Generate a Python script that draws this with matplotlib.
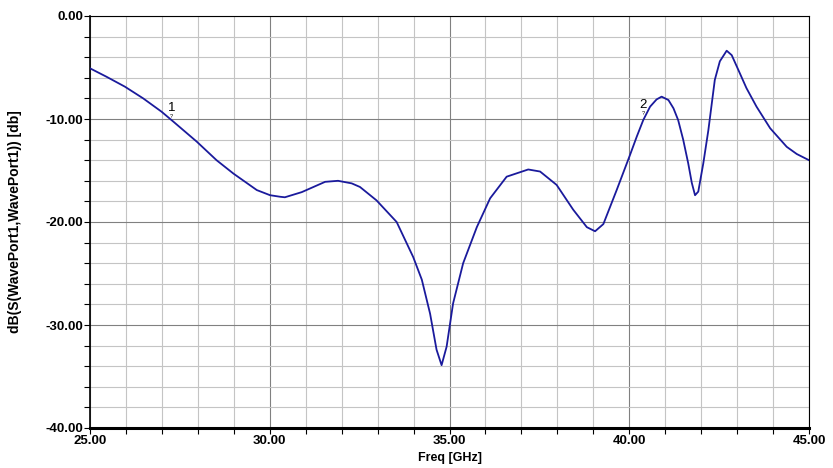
import matplotlib
matplotlib.use('Agg')
import matplotlib.pyplot as plt
from matplotlib.ticker import MultipleLocator, FormatStrFormatter

# S11 curve
freq = [25.0, 25.46, 25.97, 26.48, 26.99, 27.32, 27.97, 28.52, 28.99, 29.64,
        30.01, 30.29, 30.42, 30.89, 31.54, 31.9, 32.28, 32.51, 32.97, 33.53,
        33.99, 34.23, 34.46, 34.64, 34.78, 34.92, 35.1, 35.38, 35.76, 36.13,
        36.59, 37.19, 37.52, 37.98, 38.44, 38.82, 39.05, 39.28, 39.65, 40.02,
        40.21, 40.39, 40.58, 40.76, 40.9, 41.09, 41.23, 41.36, 41.5, 41.64,
        41.74, 41.83, 41.92, 42.06, 42.2, 42.38, 42.52, 42.71, 42.85, 43.03,
        43.26, 43.54, 43.92, 44.38, 44.66, 45.0]
s11_db = [-5.08, -5.9, -6.86, -8.0, -9.29, -10.26, -12.2, -14.0, -15.3, -16.9,
          -17.4, -17.55, -17.6, -17.1, -16.1, -16.0, -16.25, -16.6, -17.9, -20.0,
          -23.4, -25.6, -28.9, -32.4, -33.9, -32.1, -27.9, -24.0, -20.5, -17.7,
          -15.6, -14.9, -15.1, -16.4, -18.8, -20.5, -20.9, -20.2, -16.9, -13.5,
          -11.7, -10.1, -8.8, -8.1, -7.83, -8.16, -8.96, -10.1, -12.0, -14.3,
          -16.2, -17.4, -17.05, -14.3, -11.1, -6.2, -4.4, -3.37, -3.8, -5.2,
          -7.0, -8.8, -10.9, -12.7, -13.4, -14.0]

# markers
marker_names = ['1', '2']
marker_freq = [27.27, 40.38]
marker_db = [-10.1, -9.8]

plt.rcParams['font.family'] = ['Liberation Sans', 'DejaVu Sans']

fig = plt.figure(figsize=(8.33, 4.68), dpi=100)
ax = fig.add_axes([90 / 833, 1 - 428 / 468, 719 / 833, 412 / 468])

ax.plot(freq, s11_db, color='#1a1a9c', lw=1.3, zorder=3)

for name, f, d in zip(marker_names, marker_freq, marker_db):
    ax.text(f, d + 1.2, name, ha='center', va='center', fontsize=9.5, color='black', zorder=4)
    ax.text(f, d + 0.35, '?', ha='center', va='center', fontsize=4, color='black', zorder=4)

ax.set_xlim(25, 45)
ax.set_ylim(-40, 0)
ax.xaxis.set_major_locator(MultipleLocator(5))
ax.xaxis.set_minor_locator(MultipleLocator(1))
ax.yaxis.set_major_locator(MultipleLocator(10))
ax.yaxis.set_minor_locator(MultipleLocator(2))
ax.xaxis.set_major_formatter(FormatStrFormatter('%.2f'))
ax.yaxis.set_major_formatter(FormatStrFormatter('%.2f'))

ax.grid(which='major', color='#808080', lw=0.8)
ax.grid(which='minor', color='#c4c4c4', lw=0.8)
ax.set_axisbelow(True)

ax.tick_params(which='both', direction='out', length=4, width=0.8, color='black',
               top=False, right=False)
ax.tick_params(which='major', labelsize=9.5, pad=1)
for lab in ax.get_xticklabels() + ax.get_yticklabels():
    lab.set_fontweight('bold')

ax.spines['bottom'].set_linewidth(2.2)
ax.spines['left'].set_linewidth(1.2)
ax.spines['top'].set_linewidth(0.8)
ax.spines['right'].set_linewidth(0.8)

ax.set_xlabel('Freq [GHz]', fontsize=9, fontweight='bold', labelpad=4)
ax.set_ylabel('dB(S(WavePort1,WavePort1)) [db]', fontsize=10, fontweight='bold', labelpad=17)

fig.savefig('out.png', dpi=100)
